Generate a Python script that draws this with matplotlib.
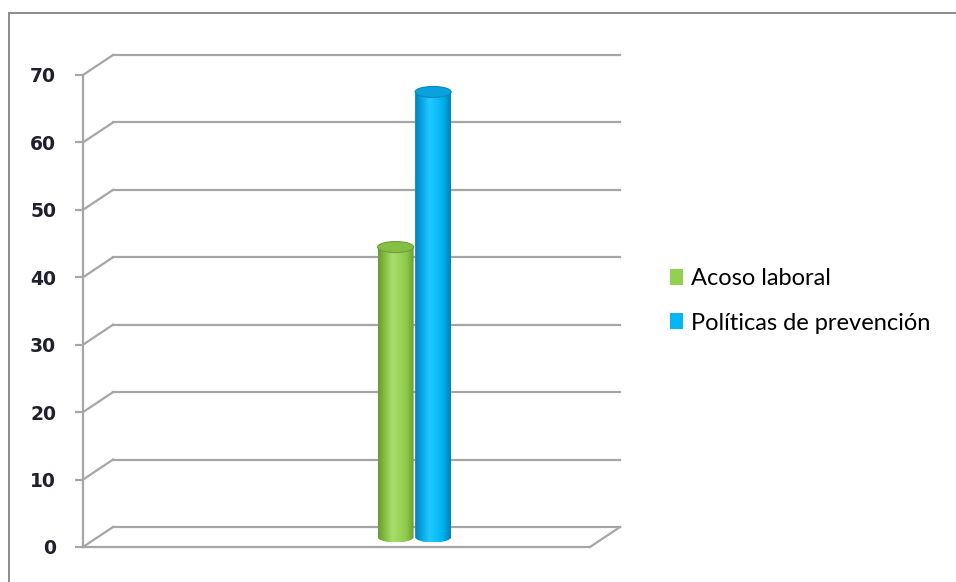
import numpy as np
import matplotlib
matplotlib.use('Agg')
import matplotlib.pyplot as plt
from matplotlib.patches import Ellipse, Polygon, Patch
from matplotlib.lines import Line2D
from matplotlib.colors import to_rgb

# ---- data ----
series = ['Acoso laboral', 'Políticas de prevención']
values = [43, 66]
yticks = [0, 10, 20, 30, 40, 50, 60, 70]

# ---- styles / layout ----
colors = ['#92D050', '#00B7F3']
shades = [
    ['#6A9A30', '#86C043', '#A8DE6C', '#9AD55A', '#8CC84C', '#6C9C32'],
    ['#0083B8', '#08A8E6', '#22C8FF', '#0EBEFA', '#00AEEA', '#0082B5'],
]
top_face = ['#86BE45', '#0AA2DC']
top_edge = ['#6E9E35', '#0088C0']
bar_pos = [0.587, 0.661]
W, H, DPI = 956, 582, 100
AX_L, AX_B, AX_W, AX_H = 83, 35, 507, 472
YMAX = 70
grid_c = '#A6A6A6'

fig = plt.figure(figsize=(W / DPI, H / DPI), dpi=DPI)
fig.patch.set_facecolor('white')
ax = fig.add_axes([AX_L / W, AX_B / H, AX_W / W, AX_H / H])

px_x = 1.0 / AX_W          # data units per pixel (x)
px_y = YMAX / AX_H         # data units per pixel (y)
ddx, ddy = 30 * px_x, 20 * px_y   # depth offset

# back wall gridlines + diagonals
for v in yticks:
    ax.add_line(Line2D([0 + ddx, 1 + ddx], [v + ddy, v + ddy], color=grid_c,
                       lw=1.6, clip_on=False, zorder=1))
    ax.add_line(Line2D([0, ddx], [v, v + ddy], color=grid_c, lw=1.6,
                       clip_on=False, zorder=1))
# floor
ax.add_line(Line2D([0, 1], [0, 0], color=grid_c, lw=1.6, clip_on=False, zorder=1))
ax.add_line(Line2D([1, 1 + ddx], [0, ddy], color=grid_c, lw=1.6, clip_on=False, zorder=1))

# cylinders
w_bar = 36 * px_x
eh = 11 * px_y
for i, (v, xc0) in enumerate(zip(values, bar_pos)):
    xc = xc0 + ddx / 2
    yo = ddy / 2
    x0, x1 = xc - w_bar / 2, xc + w_bar / 2
    t = np.linspace(np.pi, 2 * np.pi, 60)
    pts = [(x0, yo + v), (x0, yo)]
    pts += list(zip(xc + w_bar / 2 * np.cos(t), yo + eh / 2 * np.sin(t)))
    pts += [(x1, yo + v)]
    poly = Polygon(pts, closed=True, facecolor='none', edgecolor='none',
                   transform=ax.transData)
    ax.add_patch(poly)
    cols = np.array([to_rgb(c) for c in shades[i]])
    xs = np.linspace(0, 1, len(cols))
    xi = np.linspace(0, 1, 80)
    grad = np.stack([np.interp(xi, xs, cols[:, k]) for k in range(3)], axis=-1)[None, :, :]
    im = ax.imshow(grad, extent=[x0, x1, yo - eh / 2, yo + v], aspect='auto',
                   interpolation='bilinear', zorder=3 + i, clip_on=True)
    im.set_clip_path(poly)
    ax.add_patch(Ellipse((xc, yo + v), w_bar, eh, facecolor=top_face[i],
                         edgecolor=top_edge[i], lw=0.8, zorder=3.5 + i, clip_on=False))

ax.set_xlim(0, 1)
ax.set_ylim(0, YMAX)
ax.set_xticks([])
ax.set_yticks(yticks)
ax.set_yticklabels([str(v) for v in yticks], fontsize=13.5, color='#1F1F30',
                   family='DejaVu Sans', fontweight='bold')
ax.tick_params(axis='y', length=5.8, width=1.6, color=grid_c, pad=13.5)
for s in ['top', 'right', 'bottom']:
    ax.spines[s].set_visible(False)
ax.spines['left'].set_color(grid_c)
ax.spines['left'].set_linewidth(1.6)
ax.patch.set_visible(False)

# legend
handles = [Patch(facecolor=c, edgecolor='none') for c in colors]
fig.legend(handles, series, loc='upper left',
           bbox_to_anchor=(670 / W, 1 - 268 / H), frameon=False,
           prop={'family': 'Lato', 'size': 17}, handlelength=0.55,
           handleheight=0.65, handletextpad=0.35, labelspacing=1.0,
           borderaxespad=0, borderpad=0)

# chart-area border (top and left visible)
fig.add_artist(Line2D([9 / W, 9 / W], [0, 1 - 13 / H], color='#8C8C8C', lw=1.4,
                      transform=fig.transFigure))
fig.add_artist(Line2D([9 / W, 1], [1 - 13 / H, 1 - 13 / H], color='#8C8C8C', lw=1.4,
                      transform=fig.transFigure))

fig.savefig('out.png', dpi=DPI)
